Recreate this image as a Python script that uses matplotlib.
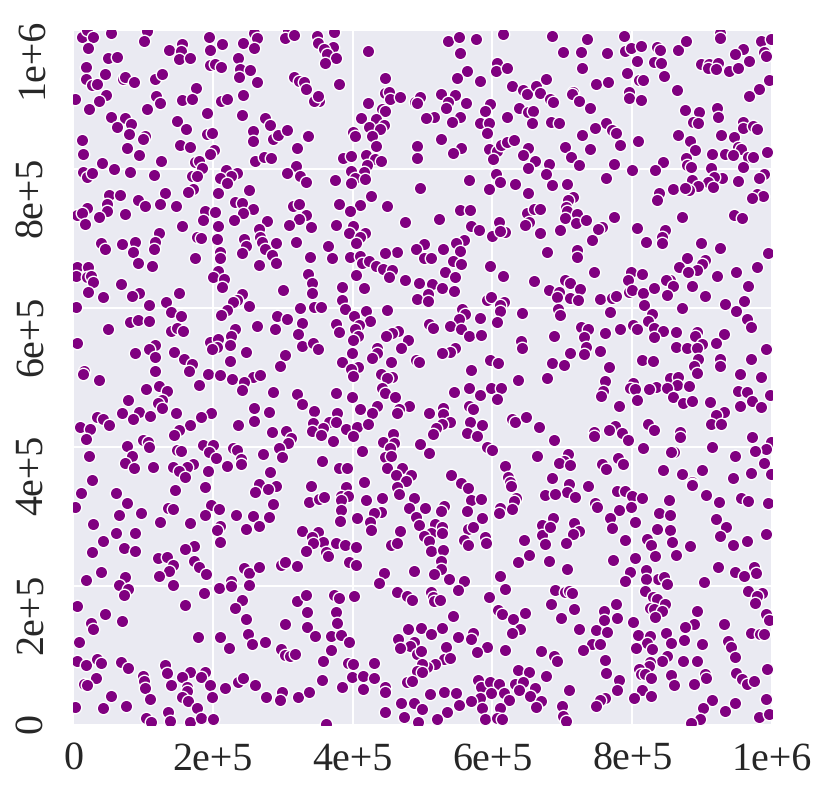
import matplotlib
matplotlib.use("Agg")
import matplotlib.pyplot as plt
import matplotlib.transforms as mtrans
import seaborn as sns
import numpy as np

# values, in thousands, (x, y)
top_left = [(12.4,989.5),(19.6,1000),(29,990.4),(21.5,974),(54,996),(106.4,998),(101.6,984),(194.6,990.4),(196.5,971),(213.7,980),(242.8,982),(258.5,995),(262.8,988),(258.5,974),(308,998),(303.4,988),(316.7,993),(137.9,971),(156,980),(154,970),(151.2,958),(167.4,960),(49.6,959),(63,961),(18,947),(45.8,937),(19,929),(26.7,920.4),(34,923),(71,930),(75,933),(86.8,925),(117.8,930),(127.8,936),(195.6,950),(203,951),(211.3,947),(236.6,960),(239.5,943.4),(253.8,942),(238,932),(263.3,925.7),(316.7,932),(323.4,926),(331,925),(334,915),(3.3,901),(176.5,917),(119.3,905),(125,895.5),(156.5,899),(170.3,901),(47.2,906),(37.2,897.4),(22.4,886),(105.4,886),(212.3,898),(220.9,901),(243.3,906.5),(191.3,880.6),(241.4,877.7),(53.9,875.3),(73.9,873),(83.5,864.8),(63.4,860),(80.6,851),(149.3,869),(161.7,858),(192.2,851),(198.4,852),(274.3,873),(281.9,864),(257.6,855),(257,840),(286.7,843.6),(293.4,849.4),(306.7,856.6),(334.9,848),(12.9,842),(13.8,821.6),(103,848),(99.7,842.7),(76.8,830.2),(94,819.7),(153.6,834),(167,832),(201.3,827.4),(196,822),(320.5,830),(125.5,812),(41,808),(59.2,800),(82,796),(115.4,792),(14.8,796),(20.5,789),(27,793.8),(174.6,810.6),(180.8,811),(184,801),(170.8,790.4),(177.4,790),(261,811),(272.8,817),(282.9,816.3),(319.6,805),(306.7,794.3),(324.4,790),(333.4,782),(219,799),(235.2,793.8),(225.6,790),(210.8,787.6),(220.9,779.4),(251.4,770.3),(208,766),(172.2,771),(165,767.4),(131.2,765.5),(52,762),(66.8,762.6),(92.5,755.4),(103,746.8),(125,750),(147.4,746.3),(49.1,749),(48.7,740),(20.5,743.4),(37.7,731.4),(5.3,734.3),(12.4,736),(17.7,720.4),(74.9,734.8),(232.3,752),(241.8,750.6),(257.1,742),(242.8,736.2),(229.9,726.2),(188.4,739.6),(203.2,737.7),(186,726.6),(208,718.5),(156,717.5),(315.3,746.8),(323.4,749.7),(333.9,733.8),(323.4,727.6),(309.6,719.4),(277.6,724.7),(266.2,713.2),(122.6,708.4),(117.3,694.5),(116.4,684.4),(39.6,693.6),(45.3,685.4),(69.6,692.6),(89.2,695),(85.9,680.6),(177,701.7),(183.6,701.2),(206.5,699.8),(244.7,698.8),(247.6,689.2),(241.4,678.7),(209.9,681.1),(268,701.7),(270,695.5),(291,694),(275.2,684.4),(285.2,676.3),(319.6,695)]
top_mid = [(349.5,992),(373.8,997),(350,981),(372.4,975),(359,972),(363.8,965.5),(376.2,960),(360,952),(421.5,970),(536.5,984),(551.8,990),(576.6,987),(553.7,967.4),(614.7,994),(606.1,952),(604.7,941),(621.4,946),(564.2,940.5),(549.4,930.5),(582.8,926.6),(381,922),(352.4,898),(344.7,898),(351,905),(446.3,931.4),(446.3,910),(452.5,910.8),(453.5,900.7),(468.3,903),(422.5,894.5),(441.6,886),(445.9,883),(412.5,873),(433.5,872.4),(423.9,861),(445.4,863.3),(439.2,857.6),(427.7,848),(400,853.7),(403,848),(335.7,848),(434,833.6),(489.3,897),(496.4,903),(491.6,894.5),(527,908),(546,907),(536,897),(534,888),(561.8,894.5),(628.5,919.4),(643.4,913),(650,908),(662.4,920),(668.1,909),(596,893.5),(589.4,884),(517,875),(505,874),(553,875),(541.7,868),(582.8,866.7),(594.7,865.7),(620.4,875.3),(638.6,887.3),(651,881.6),(657.6,884),(657.2,866.7),(592.3,851.3),(527,843),(491.6,833.6),(492.6,816),(555,830),(544.1,823.5),(594.7,829.3),(606.1,826.4),(612.3,834),(620.4,839.4),(631.4,841.7),(650.5,830.2),(643.4,819.7),(660.5,811),(600.9,814),(651,801.4),(386.7,816),(397.2,819.2),(419.1,820.6),(431.5,814.4),(441.1,811),(420.6,806.3),(398.2,797.1),(416.8,795.7),(403.4,786.6),(397.7,780.4),(417.7,785.6),(374.8,784.2),(496,773),(566,784.2),(604.7,792.3),(610.4,780.8),(595.6,771.2),(631.9,778.4),(650.5,765),(425.8,760.7),(381,750.1),(410.6,747.7),(395.8,740),(448.7,746.8),(340.9,717),(376.7,719.4),(400,718),(395.3,707.4),(417.7,707.4),(410.6,702.6),(404.8,693),(365.2,689.7),(474.5,723.3),(524,728.6),(553.2,741.5),(567.5,741),(650,736.2),(660,742),(667.7,742),(652.9,724.2),(646.7,720),(667.7,708.4),(609.5,723.3),(569.9,717.5),(581.3,712.7),(599.5,704),(618,709.9),(610.4,711.3),(559.9,697.9),(547.5,693.1),(554.1,682.5),(502.1,691.6),(490.7,685.4),(528.9,685.4),(464,680.6),(445.9,679.6)]
top_right = [(685.3,991.4),(735.4,987.5),(788.8,990.9),(701,968.4),(726.3,967.9),(764,967.4),(789.3,969.8),(798.8,974.1),(812.6,977),(835.5,976),(839.3,970.8),(865.1,971.2),(876.5,984.2),(925.2,995.2),(925.2,989),(983.9,983.7),(998.7,986.6),(958.6,972.2),(947.6,966),(988.6,968.8),(992,962.6),(967.2,955.9),(806.9,955),(831.2,953.5),(841.7,953),(728.2,945.8),(898.5,950.6),(910,951.1),(922.3,953),(908,944.9),(919.5,944.4),(938.1,940.5),(951,945.8),(792.1,937.7),(846,933.8),(676.2,929),(748.2,921.8),(765,925.2),(809.8,928),(815,928.6),(996.3,928.6),(715.8,911.3),(713.4,908),(682.4,900.3),(686.2,896.9),(723.9,897.4),(740.1,887.3),(863.7,914.2),(982,915.6),(967.7,904.6),(795,910.9),(795,901.7),(812.6,898.8),(876.1,885.4),(895.2,881.6),(921.9,888.3),(922.3,875.3),(683.8,868.1),(694.8,865.7),(762.1,866.7),(746.8,858.5),(770.7,856.1),(776.9,851.3),(887.5,867.2),(893.7,866.7),(958.1,868.1),(958.1,858.5),(972.4,861.4),(979.1,857.6),(865.6,849.4),(927.1,848.9),(946.2,846.1),(728.2,848.5),(808.8,839.8),(883.2,840.8),(783.1,834.1),(704.4,832.2),(739.7,829.3),(889.4,827.4),(951.9,832.2),(955.7,829.3),(914.7,821.6),(932.8,821.6),(944.8,820.6),(993.4,824),(966.2,817.8),(973.4,817.8),(712,817.8),(876.5,815.4),(681.5,807.2),(724.4,805.8),(774,807.7),(843.6,809.6),(878.5,805.3),(884.7,803.4),(913.3,801),(958.6,803.4),(800.2,798.1),(833.1,798.1),(677.2,793.3),(762.5,787.1),(928.1,787.6),(916.6,789),(909,780.8),(915.2,774.6),(885.6,784.2),(951.4,782.3),(988.2,792.8),(982,786.6),(685.3,777.5),(706.3,778.9),(858,771.7),(894.2,775.6),(881.3,770.3),(876.1,772.2),(837.9,765),(835.5,754.9),(714.8,759.7),(707.7,755.4),(705.8,745.8),(706.3,739.1),(979.1,764.5),(987.7,761.6),(971,757.8),(946.2,734.3),(956.7,730),(871.3,730.5),(773.5,730.5),(721,735.3),(704.4,729.5),(719.6,722.3),(733.9,726.2),(696.7,712.3),(756.3,716.1),(751.6,713.2),(807.4,715.6),(846.5,711.8),(843.2,702.6),(742,697.9),(819.8,694.5),(842.2,694),(899,694),(926.2,686.4),(678.1,681.1),(721.5,683.5),(994.8,679.2)]
mid_left = [(93.5,664.3),(113.5,660.5),(175,672.5),(209.9,671.5),(266.6,661.9),(291,664.3),(5.3,658.6),(21.5,658.6),(4.3,646.1),(20.5,644.2),(25.8,646.1),(29.1,637),(68.7,635),(22,622.6),(43.4,616.4),(94.4,621.6),(84,617.8),(152.2,621.1),(207,652.8),(200.8,644.2),(216,641.8),(212.7,630.7),(301,626.4),(241.4,620.2),(235.2,611.6),(229,608.7),(251.9,602.4),(108.8,603.9),(133.6,609.2),(4.3,601),(139.8,594.8),(154.1,588.1),(220.4,596.7),(211.8,590),(324.4,600.5),(292.4,588.5),(306.2,583.7),(82,579.4),(93.5,582.3),(109.2,581.8),(50.6,569.4),(263.8,574.6),(328.2,578.5),(289.5,569.8),(140.2,566.5),(148.4,570.8),(157.4,567),(231.8,570.3),(225.6,559.8),(322,562.6),(6.2,550.2),(117.3,547.3),(108.3,540.6),(88.2,535.8),(116.9,529.5),(145,537.2),(196,550.6),(207.5,555),(206.5,544.4),(199.4,540.6),(224.7,547.3),(247,536.7),(327.7,545.9),(159.3,526.7),(169.8,519),(166,508.9),(224.7,523.3),(303.8,532.4),(296.2,517.1),(117.8,509.9),(15.7,509.9),(13.8,504.6),(36.7,495.9),(193.2,505.1),(210.8,503.2),(228,498.4),(258,500.3),(267.6,503.2),(244.7,494.1),(241.8,482.5),(179.8,489.7),(123.5,488.3),(104,483),(135,480.6),(285.7,479.7),(320.5,476.3),(79.2,467.7),(126.9,467.2),(122.1,462.9),(127.8,456.6),(327.7,461.4),(259,455.7),(280,449.9),(69.6,449.5),(94,449.9),(86.3,440.3),(110.7,445.1),(147.4,449.5),(197.5,449.5),(183.2,443.2),(34.8,443.7),(43.4,440.8),(52,432.2),(9.5,428.8),(24.3,426),(18.6,412),(167.4,431.7),(235.6,431.2),(259,438),(152.2,424),(144,416.8),(284.8,422.1),(304.8,422.6),(312,412.5),(308.1,406.3),(100.7,410.1),(107.8,407.3),(108.3,400.5),(77.8,401),(186.5,402.5),(200.4,403.4),(229,399.1),(234.2,396.2),(148.4,395.7),(154.1,393.8),(194.6,392.9),(295.3,398.6),(272.4,390),(22.4,387.6),(84.4,386.6),(204.2,383.7),(299.1,386.1),(240.9,383.3),(240.9,375.1),(73.9,376.6),(87.8,370.3),(115,370.8),(142.6,371.3),(171.7,376.1),(163.6,370.8),(152.2,366),(193.7,365.5),(220.9,372.7),(281.9,364.6),(159.8,357.4),(27.2,352.1),(265.7,346.8)]
mid_mid = [(339,673),(370,671.5),(396.3,673),(411,674.9),(413,664.3),(423.9,667.7),(433.9,660.5),(444,655.7),(456.4,654.7),(452,645.1),(502.1,672),(512.2,672.5),(544.1,668.2),(555.6,663.4),(597,660.5),(336.1,649),(404.8,647.5),(532.7,651.4),(547,645.1),(615.2,645.6),(659.6,638.9),(474.5,639.9),(495,636),(513.1,635),(342.3,636),(385.3,629.8),(415.8,628.3),(341.9,622.1),(527.4,628.3),(545.6,624.5),(507.9,620.7),(491.6,613),(507.9,610.1),(384.3,612),(591.8,611.6),(598.5,615.9),(616.6,608.2),(610.9,604.4),(344.7,602),(354.7,601),(389.1,598.1),(419.2,595.3),(448.7,597.7),(556.5,599.1),(610.9,595.7),(641.9,592.4),(560.8,590.9),(552.2,583.7),(401.5,588.1),(582.8,585.2),(606.1,579.4),(424.4,580.9),(376.2,577.5),(408.7,575.1),(403.4,569.4),(380.5,565),(508.8,576.5),(514.5,570.8),(538.9,574.6),(555.1,569.8),(567,560.2),(583.2,561.2),(465,567),(455.9,563.6),(448.2,559.8),(479.2,554),(408.2,559.8),(400.5,554),(343.8,550.2),(350.5,541),(468.8,543),(640.5,553),(641.9,543),(434.4,543),(435.4,534.8),(427.7,528.1),(398.6,534.8),(385.3,521.9),(454.4,522.8),(546.5,542),(539.4,537.2),(527.9,534.8),(490.2,524.8),(495.5,521.9),(596.1,525.7),(607.6,521.4),(407.7,515.6),(397.7,512.8),(401,502.2),(569.9,511.3),(440.6,505.1),(456.4,501.2),(448.7,499.3),(636.7,496),(442,485.4),(446.3,477.3),(566,485.4),(598.5,485),(611.9,485),(544.6,478.7),(582.3,474.4),(606.1,469.1),(376.2,478.2),(399.1,472),(460.2,471.5),(435.4,459),(480.7,459),(410.6,454.7),(466.8,454.7),(463,449.4),(344.7,452.3),(427.3,448.5),(377.2,449.5),(509.8,449.5),(529.8,456.6),(529.3,447.5),(566.5,459),(572.3,455.2),(539.4,436),(568.4,436),(585.6,431.7),(628.1,439.9),(632.8,436),(648.6,443.2),(666.7,428.4),(343.8,435.1),(366.7,435.5),(376.2,435.5),(357.1,426.9),(341.9,423.1),(355.2,417.8),(390.5,426),(406.3,428.8),(422.5,433.6),(400,416.4),(371.4,408.7),(527.4,432.7),(519.3,426.9),(515,418.3),(457.3,418.3),(443,407.7),(459.2,406.3),(454,398.1),(496.4,403.9),(563.7,419.7),(577.5,415.4),(591.8,400.5),(600,395.7),(413,394.8),(509.8,391.9),(446.8,386.1),(454.4,387.6),(664.3,386.6),(355.7,379.4),(381,369.8),(391.5,369.4),(449.2,369.4),(617.6,372.7),(470.2,369.8),(484,360.2),(462.1,360.2),(476.4,351.6),(540.8,359.8),(622.8,357.4),(555.6,348.3),(416.3,349.7),(625.2,350.2)]
mid_right = [(720.6,673.9),(878.5,672.5),(904.2,669.1),(899.4,663.4),(893.2,654.7),(867.5,659.5),(879.4,651.4),(978.6,659),(744.9,651.8),(798.3,652.3),(814.5,649),(794.5,639.9),(948.1,651.4),(921.9,646.1),(854.6,640.3),(848.4,639.9),(858.9,632.2),(885.1,632.2),(966.2,631.2),(703.9,639.9),(711,635.5),(680.5,626.4),(725.8,627.4),(695.3,623.5),(692,616.4),(711,614.4),(722,611.1),(753.5,613.5),(770.7,614),(777.3,617.3),(795.9,623.5),(800.2,626.4),(816,621.2),(831.2,628.3),(850.3,618.8),(904.7,616.8),(959.5,610.1),(933.3,605.3),(949,595.7),(871.3,600.5),(817.4,604.8),(694.3,598.1),(697.2,590.5),(768.7,593.8),(827.9,591.9),(823.1,580.9),(963.8,583.7),(970.5,573.2),(801.2,575.6),(807.4,569.4),(831.7,570.8),(727.2,572.7),(737.3,570.3),(731.1,558.3),(688.6,559.3),(761.6,564.6),(782.1,569.8),(844.6,567),(863.2,565),(893.2,566),(831.2,558.8),(931.4,562.6),(889.9,560.2),(919.9,550.2),(899.4,548.3),(862.2,543.9),(878,543),(893.2,542.5),(734.4,543.5),(731.1,533.9),(753.5,538.7),(711.5,534.8),(991.5,541.5),(685.8,521.4),(702.9,518),(814.1,524.8),(829.8,523.8),(894.2,526.2),(888,516.6),(892.8,506),(970.5,527.2),(925.2,526.2),(926.2,517.1),(766.4,515.6),(954.8,505.1),(983.9,501.3),(678.1,498.9),(761.1,495.5),(854.1,498.9),(865.6,501.3),(864.1,489.3),(880.8,488.3),(834.6,486.4),(823.6,484),(849.4,485),(801.2,492.6),(796.9,485),(804,483),(757.8,481.1),(755.9,473.9),(951.4,480.1),(964.8,479.7),(997.2,474.4),(806.9,468.2),(858.9,472),(873.2,463.4),(886.1,465.8),(910.9,464.3),(971.9,466.7),(954.8,459),(984.4,457.1),(780.7,459.5),(930.9,450.4),(919.9,446.1),(913.3,433.2),(927.6,433.2),(775.9,430.8),(822.2,432.7),(830.8,424.5),(767.3,425),(744.9,421.6),(745.9,415.9),(785,420.7),(868,422.1),(868,414),(971,414.9),(794.5,410.1),(688.1,409.6),(998.2,407.7),(816,399.1),(913.7,399.6),(991,396.7),(975.3,393.8),(860.3,392.9),(855.1,392.9),(946.7,387.6),(708.6,390),(702.4,379.9),(695.8,377.5),(711.5,374.2),(779.2,383.7),(786.4,375.1),(756.3,375.6),(762.5,367.9),(989.1,377.5),(844.6,366.5),(900.4,367),(871.8,361.2),(970,362.2),(998.2,360.7),(685.8,355.5),(943.8,355.5),(885.6,350.2),(885.6,346.3),(709.1,346.3)]
low_left = [(11,334.3),(62,333.3),(145.5,338.1),(188.4,342),(77.8,319.9),(2.9,313.2),(136.4,311.7),(142.6,311.3),(197.5,316),(209.4,310.8),(285.7,318.4),(290.5,343.9),(279.5,339),(260.9,334.8),(65.8,302.1),(96.8,304.5),(188.9,301.7),(233.3,301.7),(257.6,301.2),(280,299.3),(29.1,289.2),(124,291.6),(167.4,290.2),(210.4,286.8),(206.5,280.1),(247.1,281.5),(265.7,286.8),(61,276.7),(89.2,275.8),(42.9,265.2),(210.8,263.3),(328.2,279.6),(173.6,258),(159.8,252.7),(72.5,255.1),(88.3,250.8),(27.2,248.4),(121.2,239.8),(135,241.2),(142.6,230.7),(137.9,222),(173.2,236),(180.3,227.3),(189.8,217.7),(122.6,214.9),(40.1,220.6),(18.6,208.6),(73.9,212.9),(245.2,225.4),(252.3,219.2),(265.7,227.3),(298.1,229.7),(302.9,235),(321,228.8),(143.6,200.9),(65.4,200.9),(79.2,195.2),(73,187.5),(187.9,190.4),(208.5,196.6),(226.1,207.7),(226.1,200),(251.4,200.9),(242.3,179.8),(6.2,171.2),(160.8,172.6),(231.8,167.9),(321,178.9),(45.8,159.2),(70.6,149.1),(25.8,146.3),(29.1,137.6),(247.6,152.5),(303.8,145.3),(8.1,118.9),(178.4,126.1),(210.8,126.1),(250.4,130.9),(222.8,111.3),(256.2,117),(274.7,119.9),(297.2,109.3),(302.9,100.7),(310.5,99.8),(317.7,102.6),(6.2,92.6),(18.6,86.3),(34.8,94.5),(40.5,89.2),(68.2,90.2),(78.7,81.5),(131.2,86.3),(135,74.3),(99.7,70.5),(101.6,62.8),(102.6,53.7),(167.4,76.7),(189.4,76.3),(183.2,69.5),(156,69.1),(33.4,67.6),(15.7,59),(20.5,58),(140.7,57.1),(196,57.1),(162.7,55.2),(163.6,48.4),(235.6,62.3),(243.3,67.1),(260,57.5),(218,52.7),(54.4,41.7),(156.5,39.8),(198.4,40.8),(164,35),(109.7,37.4),(275.7,40.3),(299.6,47),(296.7,36.4),(322,40.3),(3.3,25.4),(43.4,23.9),(75.4,26.9),(177.4,24.9),(136.4,18.7),(104.9,10.1),(111.1,4.8),(138.3,5.7),(167.9,4.3),(183.2,10.1),(200.8,9.1)]
low_mid = [(340.4,343.9),(390,342.4),(463,342.9),(466.4,332.8),(565.6,341),(626.2,343.9),(338,321.3),(351.9,325.6),(359.5,328.5),(383.4,330),(393.9,329.5),(382.9,323.7),(419.6,324.2),(442,326.1),(487.8,326.1),(569.4,323.2),(583.2,324.7),(634.3,326.1),(631.4,322.8),(674.8,330.4),(382.9,308.9),(481.2,311.7),(504,312.7),(531.2,315.1),(526.5,308.4),(563.7,307.9),(440.6,306.5),(431.1,304.5),(610.9,311.7),(609.5,305.5),(627.6,310.8),(406.3,298.3),(381.9,294),(425.3,292.1),(490.7,299.7),(584.7,298.3),(495,288.2),(517.9,289.2),(528.4,284.9),(425.8,281),(565.6,281.5),(571.8,285.4),(670.5,287.8),(350.9,277.2),(468.3,279.1),(341.4,270.9),(511.7,276.7),(528.4,275.8),(502.1,272.4),(671.5,273.4),(589.9,270),(590.9,261.4),(559.9,266.2),(565.6,259),(645.2,265.7),(357.1,263.8),(376.7,262.3),(389.6,259),(404.4,256.1),(343.8,262.3),(333.3,249.9),(361.4,248.4),(365.2,243.1),(455.4,259),(463.5,262.3),(509.8,264.3),(512.6,250.8),(528.9,251.8),(526.5,235.9),(394.3,234.5),(404.4,230.2),(444.9,218.2),(438.2,204.8),(487.8,222),(526.5,224.4),(516,217.7),(537.9,210.5),(559.4,207.7),(551.3,193.8),(636.2,234),(652.4,245),(611.4,214.9),(618.5,195.7),(463,191.4),(477.3,186.1),(485.4,179.8),(512.2,191.8),(514.5,183.7),(516.5,178.9),(524.6,179.8),(332.8,187),(373.4,187),(381,182.7),(402.5,186.1),(594.7,183.7),(334.7,162.6),(376.2,162.6),(608,165),(613.8,159.2),(646.7,161.6),(544.1,157.3),(378.1,147.2),(335.2,141.5),(629.1,152),(639.5,138.6),(627.6,131.9),(479.7,138.1),(497.9,140),(528.4,139.1),(512.6,131.4),(551.3,127.1),(571.8,132.8),(569.4,123.2),(346.2,127.6),(369.1,127.6),(383.8,129),(394.8,118.9),(465.4,123.7),(488.3,118.9),(482.1,114.1),(467.8,111.3),(533.1,112.7),(591.8,111.7),(618.5,107.9),(669.6,106.5),(368.6,108.4),(492.1,102.2),(497.4,106),(578,105.5),(530.8,95),(539.4,95.9),(357.6,92.1),(392.9,89.2),(400,87.8),(430.1,89.7),(517.9,87.8),(506,83.9),(498.8,87.3),(492.6,77.2),(499.7,76.2),(637.1,78.6),(652.9,76.2),(399.6,69.5),(415.3,71),(431.1,67.1),(356.2,64.3),(478.3,62.3),(485.4,62.8),(579,64.7),(584.2,55.1),(596.6,61.9),(609,59.5),(631.9,59.5),(644.3,61.4),(661.5,53.2),(385.3,54.2),(414.9,51.8),(445.9,55.1),(446.3,47),(338,47),(638.6,50.4),(510.7,44.1),(530.3,47.9),(547.5,46),(598,45.6),(617.1,45.6),(582.3,38.8),(624.3,36),(653.4,42.2),(669.1,34),(569.9,34.5),(468.8,31.6),(487.8,32.1),(551.8,29.2),(499.3,23.5),(585.6,24),(611.4,24.5),(662.4,25.4),(446.3,18.7),(534.6,18.2),(473,11),(521.2,8.6),(493.1,3.8),(589.4,8.6),(607.1,9.6),(613.8,8.6),(361.9,1.4)]
low_right = [(736.3,343.9),(706.3,335.2),(718.2,328.5),(689.1,331.9),(778.3,336.2),(789.3,336.2),(800.2,329),(813.6,327.1),(886.1,345.3),(905.2,330.4),(924.3,321.3),(956.2,326.6),(966.2,322.8),(994.8,319.9),(852.7,323.7),(747.3,319.9),(749.2,314.1),(797.8,313.7),(781.6,309.3),(838.4,305.5),(853.6,302.6),(767.8,298.3),(686.2,298.3),(920,296.4),(803.6,292.1),(716.3,290.1),(933.8,285.4),(682.4,285.4),(771.1,283.9),(835,282.5),(854.1,281),(723.9,279.6),(715.3,274.8),(925.7,272.4),(991,274.8),(821.2,268.1),(789.7,265.7),(856.5,263.8),(963.8,265.2),(943.8,259.5),(675.7,260.4),(704.8,261.4),(827.4,259),(882.3,257),(862.2,244.6),(832.2,243.6),(804,240.7),(772.6,236.9),(681.5,236.4),(706.7,224.4),(819.8,222.5),(923.3,227.8),(974.8,227.8),(977.7,218.2),(946.7,219.6),(960.5,214.9),(797.4,219.6),(837.4,209.6),(846,212.9),(819.3,209.6),(790.2,207.2),(850.3,203.3),(902.8,205.3),(818.4,193.3),(689.6,193.7),(703.9,190.9),(710.1,193.3),(714.4,189.9),(965.3,192.8),(985.3,190.4),(978.6,186.1),(829.3,184.2),(835.5,181.3),(846.5,174.6),(975.3,175.1),(683.4,174.6),(776.9,174.6),(716.8,167.4),(825.5,168.8),(831.7,166.9),(843.2,164),(760.2,163.5),(893.2,164.5),(832.7,155.9),(759.2,151.1),(698.1,154.4),(778.3,153.9),(992,160.2),(996.3,151.1),(800.7,147.7),(887.7,145.8),(875.1,141),(931.4,145.8),(724.4,138.1),(748.2,136.7),(764,134.3),(847.9,132.4),(969.6,132.4),(982.4,130.9),(988.6,130.9),(807.9,129),(826,127.6),(820.7,118.4),(874.2,122.3),(855.1,118.4),(899.5,116.5),(937.6,120.4),(941.9,112.2),(743,116),(753.5,116),(805,111.3),(828.8,109.8),(729.2,108.4),(688.1,99.7),(692.9,91.6),(947.6,98.3),(849.4,99.7),(843.2,91.6),(872.7,91.6),(892.8,91.6),(761.6,93.5),(825.5,90.6),(824.6,84.4),(810.2,81),(992.9,80.6),(763,74.3),(677.2,71),(812.6,73.4),(818.4,72.9),(826.5,67.6),(855.1,71.9),(904.2,73.9),(905.2,67.1),(949.1,74.3),(956.7,65.7),(964.3,58.9),(974.8,62.8),(781.1,64.7),(860.3,57.5),(888,59),(709.6,50.9),(778.8,50.4),(814.1,50.4),(761.1,39.3),(753.5,36),(747.8,27.8),(802.1,38.9),(826.9,41.7),(699.1,27.8),(701,12.9),(705.3,5.3),(991.5,37.9),(947.6,31.6),(914.7,36),(932.8,20.1),(900.9,24),(896.6,9.1),(883.7,2.4),(981.9,12),(995.8,15.8)]

tick_values = [0, 200000, 400000, 600000, 800000, 1000000]
tick_labels = ['0', '2e+5', '4e+5', '6e+5', '8e+5', '1e+6']

sns.set_theme(style="darkgrid")
plt.rcParams['font.family'] = ['Liberation Serif', 'DejaVu Serif']
plt.rcParams['text.hinting'] = 'no_hinting'
plt.rcParams['text.hinting_factor'] = 1

fig = plt.figure(figsize=(8.30, 7.98), dpi=100)
ax = fig.add_axes([73/830, 1 - 725/798, 699/830, 695/798])

groups = [top_left, top_mid, top_right, mid_left, mid_mid, mid_right, low_left, low_mid, low_right]
pts = np.array([p for g in groups for p in g]) * 1000
ax.scatter(pts[:, 0], pts[:, 1], s=80, color='purple', edgecolor='white', linewidth=1.0, zorder=3)

ax.set_xlim(0, 1000000)
ax.set_ylim(0, 1000000)
ax.set_xticks(tick_values)
ax.set_xticklabels(tick_labels)
ax.set_yticks(tick_values)
ax.set_yticklabels(tick_labels, rotation=90, va='top')
ax.tick_params(labelsize=28.5, colors='#262626', length=0)
ax.tick_params(axis='x', pad=12)
ax.tick_params(axis='y', pad=16)
ax.grid(True, color='white', linewidth=1.5)
for s in ax.spines.values():
    s.set_visible(False)
# y labels start slightly above their tick in the reference
shift = mtrans.ScaledTranslation(0, 12/100, fig.dpi_scale_trans)
for lab in ax.get_yticklabels():
    lab.set_transform(lab.get_transform() + shift)

fig.savefig('out.png', dpi=100)
